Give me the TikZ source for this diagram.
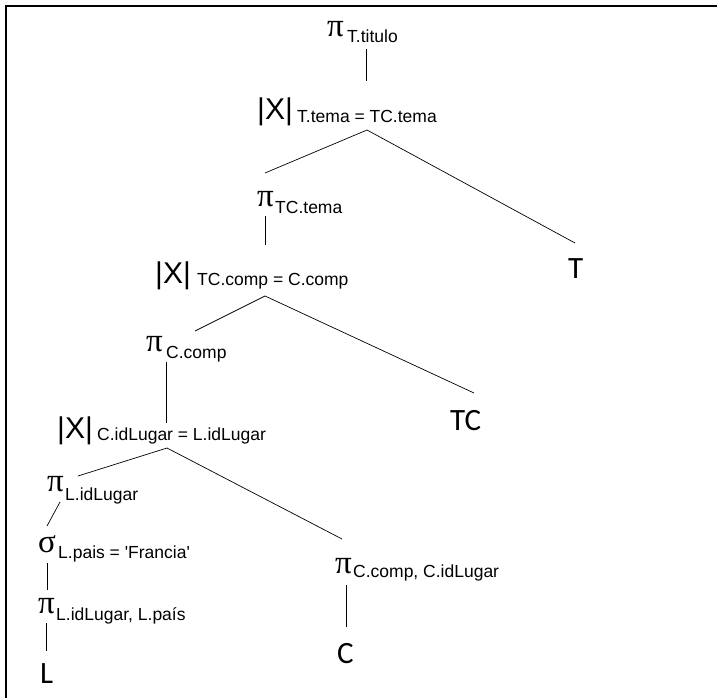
\documentclass[tikz,border=0pt]{standalone}
\usepackage{fontspec}
\setmainfont{Carlito}
\newfontfamily\grk{Liberation Serif}
\newfontfamily\ari{Liberation Sans}
\usetikzlibrary{positioning}

\begin{document}
\begin{tikzpicture}[x=1pt, y=-1pt,
    op/.style={inner sep=0pt, anchor=base west, font=\grk\fontsize{33}{33}\selectfont},
    jn/.style={inner sep=0pt, anchor=base west, font=\ari\fontsize{30}{30}\selectfont},
    sub/.style={inner sep=0pt, anchor=base west, font=\ari\fontsize{17.5}{18}\selectfont},
    rel/.style={inner sep=0pt, anchor=base west, font=\fontsize{31}{31}\selectfont},
    edge/.style={line width=0.7pt}
]
    \useasboundingbox (0,0) rectangle (717,698);
    \draw[line width=1.6pt] (717,6) -- (6,6) -- (6,698);

    % operators
    \node[op] (pTit) at (327,37) {π};
    \node[sub] (pTit-s) at (347,43) {T.titulo};
    \node[jn] (jTema) at (257,120) {|X|};
    \node[sub] (jTema-s) at (297,122) {T.tema = TC.tema};
    \node[op] (pTema) at (257,206) {π};
    \node[sub] (pTema-s) at (275,213) {TC.tema};
    \node[jn] (jComp) at (155,283) {|X|};
    \node[sub] (jComp-s) at (197,285) {TC.comp = C.comp};
    \node[op] (pComp) at (146,351) {π};
    \node[sub] (pComp-s) at (166,358) {C.comp};
    \node[jn] (jLug) at (57,438) {|X|};
    \node[sub] (jLug-s) at (97,440) {C.idLugar = L.idLugar};
    \node[op] (pLug) at (47,491) {π};
    \node[sub] (pLug-s) at (65,500) {L.idLugar};
    \node[op] (sPais) at (38,552) {σ};
    \node[sub] (sPais-s) at (58,558) {L.pais = \textquotesingle Francia\textquotesingle};
    \node[op] (pLP) at (38,613) {π};
    \node[sub] (pLP-s) at (56,620) {L.idLugar, L.país};
    \node[op] (pCC) at (335,573) {π};
    \node[sub] (pCC-s) at (353,577) {C.comp, C.idLugar};

    % relations
    \node[rel] (relT) at (568,278) {T};
    \node[rel] (relTC) at (450,430) {TC};
    \node[rel] (relL) at (40,683) {L};
    \node[rel] (relC) at (337,663) {C};

    % edge ends
    \coordinate (pTit-dn) at (366,49);
    \coordinate (jTema-up) at (366,81);
    \coordinate (jTema-dn) at (367,130);
    \coordinate (pTema-up) at (265,173);
    \coordinate (relT-up) at (575,243);
    \coordinate (pTema-dn) at (265,216);
    \coordinate (jComp-up) at (265,245);
    \coordinate (jComp-dn) at (265,296);
    \coordinate (pComp-up) at (195,331);
    \coordinate (relTC-up) at (474,393);
    \coordinate (pComp-dn) at (166,362);
    \coordinate (jLug-up) at (166,423);
    \coordinate (jLug-dn) at (167,448);
    \coordinate (pLug-up) at (78,476);
    \coordinate (pCC-up) at (342,539);
    \coordinate (pLug-dn) at (60,502);
    \coordinate (sPais-up) at (47,526);
    \coordinate (sPais-dn) at (47,563);
    \coordinate (pLP-up) at (47,590);
    \coordinate (pLP-dn) at (46,623);
    \coordinate (relL-up) at (46,651);
    \coordinate (pCC-dn) at (346,585);
    \coordinate (relC-up) at (346,627);

    % tree
    \draw[edge] (pTit-dn) -- (jTema-up);
    \draw[edge] (pTema-up) -- (jTema-dn) -- (relT-up);
    \draw[edge] (pTema-dn) -- (jComp-up);
    \draw[edge] (pComp-up) -- (jComp-dn) -- (relTC-up);
    \draw[edge] (pComp-dn) -- (jLug-up);
    \draw[edge] (pLug-up) -- (jLug-dn) -- (pCC-up);
    \draw[edge] (pLug-dn) -- (sPais-up);
    \draw[edge] (sPais-dn) -- (pLP-up);
    \draw[edge] (pLP-dn) -- (relL-up);
    \draw[edge] (pCC-dn) -- (relC-up);
\end{tikzpicture}
\end{document}
